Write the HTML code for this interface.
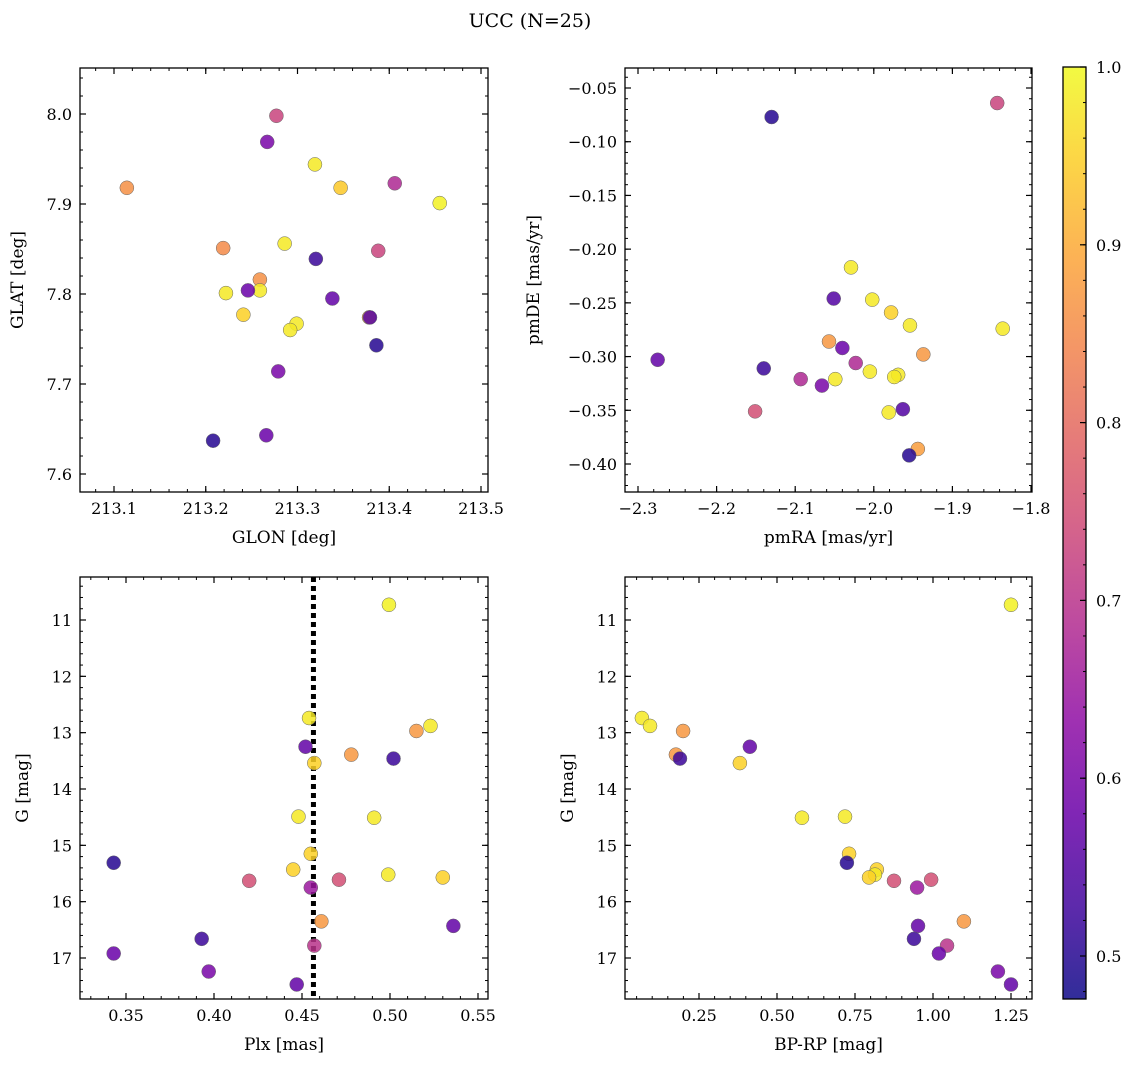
<!DOCTYPE html>
<html><head><meta charset="utf-8">
<style>
html,body{margin:0;padding:0;background:#fff;}
svg{display:block;font-family:"DejaVu Serif","Liberation Serif",serif;}
</style></head>
<body>
<svg id="fig" width="1136" height="1067" viewBox="0 0 1136 1067" xmlns="http://www.w3.org/2000/svg">
<text x="530" y="27" font-size="19" text-anchor="middle">UCC (N=25)</text>
<defs>
<linearGradient id="cbgrad" x1="0" y1="1" x2="0" y2="0"></linearGradient>
</defs>
</svg>
<script>
// ---- data: panel 1 (GLON/GLAT)
const glon=[213.114,213.277,213.267,213.319,213.347,213.406,213.455,213.219,213.286,213.320,213.388,213.259,213.259,213.222,213.246,213.338,213.241,213.378,213.379,213.299,213.292,213.386,213.279,213.208,213.266];
const glat=[7.918,7.998,7.969,7.944,7.918,7.923,7.901,7.851,7.856,7.839,7.848,7.816,7.804,7.801,7.804,7.795,7.777,7.774,7.774,7.767,7.760,7.743,7.714,7.637,7.643];
const prob1=[0.86,0.73,0.6,0.98,0.94,0.68,0.99,0.85,0.98,0.52,0.73,0.86,0.98,0.98,0.58,0.57,0.95,0.9,0.55,0.98,0.98,0.5,0.6,0.5,0.58];
// ---- data: panel 2 (pmRA/pmDE)
const pmra=[-1.843,-2.130,-2.029,-2.051,-2.002,-1.978,-1.954,-1.836,-2.057,-2.040,-1.937,-2.275,-2.023,-2.140,-2.005,-1.969,-1.974,-2.093,-2.049,-2.066,-2.151,-1.981,-1.963,-1.944,-1.955];
const pmde=[-0.064,-0.077,-0.217,-0.246,-0.247,-0.259,-0.271,-0.274,-0.286,-0.292,-0.298,-0.303,-0.306,-0.311,-0.314,-0.317,-0.319,-0.321,-0.321,-0.327,-0.351,-0.352,-0.349,-0.386,-0.392];
const prob2=[0.73,0.5,0.98,0.55,0.98,0.95,0.98,0.98,0.87,0.58,0.87,0.57,0.68,0.52,0.98,0.98,0.98,0.68,0.98,0.6,0.75,0.98,0.55,0.88,0.5];
// ---- data: panels 3 & 4 (Plx, BP-RP vs G)
const gmag=[10.73,12.74,12.88,12.97,13.25,13.39,13.46,13.54,14.49,14.51,15.15,15.31,15.43,15.52,15.57,15.63,15.75,15.61,16.35,16.43,16.66,16.78,16.92,17.24,17.47];
const plx=[0.4994,0.454,0.523,0.515,0.452,0.478,0.502,0.457,0.448,0.491,0.455,0.343,0.445,0.499,0.530,0.420,0.455,0.471,0.461,0.536,0.393,0.457,0.343,0.397,0.447];
const bprp=[1.25,0.067,0.093,0.199,0.413,0.176,0.189,0.381,0.718,0.580,0.731,0.724,0.82,0.814,0.795,0.875,0.949,0.994,1.099,0.952,0.939,1.045,1.019,1.208,1.25];
const prob3=[0.99,0.98,0.98,0.87,0.57,0.87,0.52,0.95,0.98,0.98,0.95,0.5,0.95,0.98,0.95,0.75,0.65,0.75,0.87,0.57,0.52,0.7,0.58,0.6,0.57];
const plxMedian=0.4565;
// ---- ticks
const ticksX1=[213.1,213.2,213.3,213.4,213.5], labX1=["213.1","213.2","213.3","213.4","213.5"];
const ticksY1=[7.6,7.7,7.8,7.9,8.0], labY1=["7.6","7.7","7.8","7.9","8.0"];
const ticksX2=[-2.3,-2.2,-2.1,-2.0,-1.9,-1.8], labX2=["\u22122.3","\u22122.2","\u22122.1","\u22122.0","\u22121.9","\u22121.8"];
const ticksY2=[-0.40,-0.35,-0.30,-0.25,-0.20,-0.15,-0.10,-0.05], labY2=["\u22120.40","\u22120.35","\u22120.30","\u22120.25","\u22120.20","\u22120.15","\u22120.10","\u22120.05"];
const ticksX3=[0.35,0.40,0.45,0.50,0.55], labX3=["0.35","0.40","0.45","0.50","0.55"];
const ticksG=[11,12,13,14,15,16,17], labG=["11","12","13","14","15","16","17"];
const ticksX4=[0.25,0.5,0.75,1.0,1.25], labX4=["0.25","0.50","0.75","1.00","1.25"];
const ticksCB=[0.5,0.6,0.7,0.8,0.9,1.0], labCB=["0.5","0.6","0.7","0.8","0.9","1.0"];
const VMIN=0.476, VMAX=1.0;

const NS="http://www.w3.org/2000/svg";
const svg=document.getElementById('fig');
function mk(tag,attrs,parent){const e=document.createElementNS(NS,tag);for(const k in attrs)e.setAttribute(k,attrs[k]);(parent||svg).appendChild(e);return e;}
const stops=[[0,[13,8,135]],[0.1,[65,4,157]],[0.2,[106,0,168]],[0.3,[143,13,164]],[0.4,[177,42,144]],[0.5,[204,71,120]],[0.6,[225,100,98]],[0.7,[242,132,75]],[0.8,[252,166,54]],[0.9,[252,206,37]],[1,[240,249,33]]];
function plasma(t){t=Math.max(0,Math.min(1,t));for(let i=1;i<stops.length;i++){if(t<=stops[i][0]){const a=stops[i-1],b=stops[i];const f=(t-a[0])/(b[0]-a[0]);const c=a[1].map((v,j)=>Math.round(v+(b[1][j]-v)*f));return `rgb(${c[0]},${c[1]},${c[2]})`;}}return 'rgb(240,249,33)';}
function cmap(p){return plasma((p-VMIN)/(VMAX-VMIN));}
function lin(d0,d1,r0,r1){return v=>r0+(v-d0)*(r1-r0)/(d1-d0);}

function panel(o){
  const g=mk('g',{});
  
  
  const sx=lin(o.xd[0],o.xd[1],o.box[0],o.box[2]);
  const sy=lin(o.yd[0],o.yd[1],o.box[3],o.box[1]);
  const [L,T,R,B]=o.box;
  // minor ticks
  const mstep=o.xminor, ms=o.yminor;
  for(let v=Math.ceil(o.xd[0]/mstep)*mstep;v<=o.xd[1]+1e-9;v+=mstep){const x=sx(v);mk('line',{x1:x,x2:x,y1:B,y2:B-3,stroke:'#000','stroke-width':1},g);mk('line',{x1:x,x2:x,y1:T,y2:T+3,stroke:'#000','stroke-width':1},g);}
  const ylo=Math.min(o.yd[0],o.yd[1]),yhi=Math.max(o.yd[0],o.yd[1]);
  for(let v=Math.ceil(ylo/ms)*ms;v<=yhi+1e-9;v+=ms){const y=sy(v);mk('line',{x1:L,x2:L+3,y1:y,y2:y,stroke:'#000','stroke-width':1},g);mk('line',{x1:R,x2:R-3,y1:y,y2:y,stroke:'#000','stroke-width':1},g);}
  o.tx.forEach((v,i)=>{const x=sx(v);mk('line',{x1:x,x2:x,y1:B,y2:B-6,stroke:'#000','stroke-width':1.2},g);mk('line',{x1:x,x2:x,y1:T,y2:T+6,stroke:'#000','stroke-width':1.2},g);
    const t=mk('text',{x:x,y:B+22,'font-size':16,'text-anchor':'middle'},g);t.textContent=o.lx[i];});
  o.ty.forEach((v,i)=>{const y=sy(v);mk('line',{x1:L,x2:L+6,y1:y,y2:y,stroke:'#000','stroke-width':1.2},g);mk('line',{x1:R,x2:R-6,y1:y,y2:y,stroke:'#000','stroke-width':1.2},g);
    const t=mk('text',{x:L-8,y:y+6,'font-size':16,'text-anchor':'end'},g);t.textContent=o.ly[i];});
  if(o.vline!==undefined){const x=sx(o.vline);const l=mk('line',{x1:x,x2:x,y1:T,y2:B,stroke:'#000','stroke-width':5,'stroke-dasharray':'5,4'},g);}
  o.xs.forEach((xv,i)=>{const c=mk('circle',{cx:sx(xv),cy:sy(o.ys[i]),r:7,fill:cmap(o.ps[i]),'fill-opacity':0.85,stroke:'#666','stroke-width':0.5},g);
    
    });
  mk('rect',{x:L,y:T,width:R-L,height:B-T,fill:'none',stroke:'#000','stroke-width':1.3},g);
  const xl=mk('text',{x:(L+R)/2,y:B+51,'font-size':17,'text-anchor':'middle'},g);xl.textContent=o.xlab;
  const yx=o.ylx,yy=(T+B)/2;const yl=mk('text',{x:yx,y:yy,'font-size':17,'text-anchor':'middle',transform:`rotate(-90 ${yx} ${yy})`},g);yl.textContent=o.ylab;
}
panel({name:'glon-glat-panel',box:[80,68,488,492],xd:[213.1,213.5],xr:[114,481],yd:[7.6,8.0],tx:ticksX1,lx:labX1,ty:ticksY1,ly:labY1,xminor:0.02,yminor:0.02,xs:glon,ys:glat,ps:prob1,xlab:'GLON [deg]',ylab:'GLAT [deg]',ylx:23});
// fix domain-to-pixel: adjust domains so ticks land at measured pixels
</script>
<script>
// rebuild panels with calibrated domains
while(svg.lastChild && svg.lastChild.tagName==='g') svg.removeChild(svg.lastChild);
function cal(v0,p0,v1,p1,pa,pb){const s=(p1-p0)/(v1-v0);return [v0+(pa-p0)/s, v0+(pb-p0)/s];}
panel({name:'glon-glat-panel',box:[80,68,488,492],xd:cal(213.1,114,213.5,481,80,488),yd:cal(7.6,474,8.0,114,492,68),tx:ticksX1,lx:labX1,ty:ticksY1,ly:labY1,xminor:0.02,yminor:0.02,xs:glon,ys:glat,ps:prob1,xlab:'GLON [deg]',ylab:'GLAT [deg]',ylx:23});
panel({name:'pmra-pmde-panel',box:[625,68,1032,492],xd:cal(-2.3,638,-1.8,1031,625,1032),yd:cal(-0.40,464,-0.05,88,492,68),tx:ticksX2,lx:labX2,ty:ticksY2,ly:labY2,xminor:0.02,yminor:0.01,xs:pmra,ys:pmde,ps:prob2,xlab:'pmRA [mas/yr]',ylab:'pmDE [mas/yr]',ylx:539});
panel({name:'plx-g-panel',box:[80,577,488,999],xd:cal(0.35,126,0.55,478,80,488),yd:cal(17,958,11,620,999,577),tx:ticksX3,lx:labX3,ty:ticksG,ly:labG,xminor:0.01,yminor:0.2,xs:plx,ys:gmag,ps:prob3,vline:plxMedian,xlab:'Plx [mas]',ylab:'G [mag]',ylx:28});
panel({name:'bprp-g-panel',box:[625,577,1032,999],xd:cal(0.25,699,1.25,1011,625,1032),yd:cal(17,958,11,620,999,577),tx:ticksX4,lx:labX4,ty:ticksG,ly:labG,xminor:0.05,yminor:0.2,xs:bprp,ys:gmag,ps:prob3,xlab:'BP-RP [mag]',ylab:'G [mag]',ylx:573});
// colorbar
const cb=mk('g',{});


const cbT=67,cbB=999,cbL=1063,cbR=1086;
const cbs=cal(1.0,67,0.5,956,cbT,cbB); // [val at top, val at bottom]
const grad=document.getElementById('cbgrad');
for(let i=0;i<=20;i++){const f=i/20;const v=cbs[1]+(cbs[0]-cbs[1])*f;mk('stop',{offset:f,'stop-color':cmap(v),'stop-opacity':0.85},grad);}
mk('rect',{x:cbL,y:cbT,width:cbR-cbL,height:cbB-cbT,fill:'url(#cbgrad)'},cb);
const cy=lin(cbs[0],cbs[1],cbT,cbB);
for(let v=0.48;v<=1.0001;v+=0.02){const y=cy(v);mk('line',{x1:cbR,x2:cbR-3,y1:y,y2:y,stroke:'#000','stroke-width':1},cb);}
ticksCB.forEach((v,i)=>{const y=cy(v);mk('line',{x1:cbR,x2:cbR-6,y1:y,y2:y,stroke:'#000','stroke-width':1.2},cb);const t=mk('text',{x:cbR+10,y:y+6,'font-size':16},cb);t.textContent=labCB[i];});
mk('rect',{x:cbL,y:cbT,width:cbR-cbL,height:cbB-cbT,fill:'none',stroke:'#000','stroke-width':1.3},cb);
</script>
</body></html>
